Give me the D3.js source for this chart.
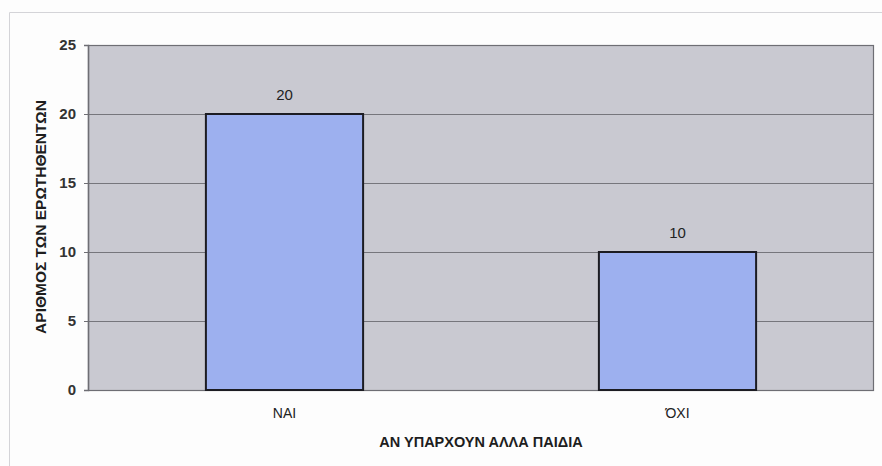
<!DOCTYPE html>
<html>
<head>
<meta charset="utf-8">
<script src="https://cdn.jsdelivr.net/npm/d3@7"></script>
<style>
  html, body { margin: 0; padding: 0; background: #fdfdfd; }
  svg { display: block; font-family: "Liberation Sans", Arial, sans-serif; }
</style>
</head>
<body>
<svg id="chart" width="882" height="466"></svg>
<script>
// Answers to "are there other children?"
const categories = ["ΝΑΙ", "ΌΧΙ"];
const counts = [20, 10];
const yTicks = [0, 5, 10, 15, 20, 25];
const xTitle = "ΑΝ ΥΠΑΡΧΟΥΝ ΑΛΛΑ ΠΑΙΔΙΑ";
const yTitle = "ΑΡΙΘΜΟΣ ΤΩΝ ΕΡΩΤΗΘΕΝΤΩΝ";

const svg = d3.select("#chart");
const plot = { left: 88, right: 874, top: 45, bottom: 390 };

// outer chart frame
svg.append("path")
  .attr("d", "M9.5,466 V12.5 H882")
  .attr("fill", "none")
  .attr("stroke", "#d4d4d8")
  .attr("stroke-width", 1);

const x = d3.scaleBand()
  .domain(categories)
  .range([plot.left, plot.right])
  .paddingInner(0.6)
  .paddingOuter(0.3);

const y = d3.scaleLinear()
  .domain([0, 25])
  .range([plot.bottom, plot.top]);

// plot area background
svg.append("rect")
  .attr("x", plot.left)
  .attr("y", plot.top)
  .attr("width", plot.right - plot.left)
  .attr("height", plot.bottom - plot.top)
  .attr("fill", "#c9c9d1");

// horizontal gridlines
svg.append("g")
  .selectAll("line")
  .data(yTicks.filter(t => t > 0))
  .join("line")
  .attr("x1", plot.left)
  .attr("x2", plot.right)
  .attr("y1", d => Math.round(y(d)) + 0.5)
  .attr("y2", d => Math.round(y(d)) + 0.5)
  .attr("stroke", "#76767c")
  .attr("stroke-width", 1);

// plot border
svg.append("rect")
  .attr("x", plot.left + 0.5)
  .attr("y", plot.top + 0.5)
  .attr("width", plot.right - plot.left - 1)
  .attr("height", plot.bottom - plot.top)
  .attr("fill", "none")
  .attr("stroke", "#6e6e74")
  .attr("stroke-width", 1.2);

// bars
svg.append("g")
  .selectAll("rect")
  .data(categories)
  .join("rect")
  .attr("x", d => x(d))
  .attr("y", (d, i) => y(counts[i]))
  .attr("width", x.bandwidth())
  .attr("height", (d, i) => y(0) - y(counts[i]))
  .attr("fill", "#9db0ef")
  .attr("stroke", "#1c1c22")
  .attr("stroke-width", 2);

// value labels
svg.append("g")
  .selectAll("text")
  .data(categories)
  .join("text")
  .attr("x", d => x(d) + x.bandwidth() / 2)
  .attr("y", (d, i) => y(counts[i]) - 14)
  .attr("text-anchor", "middle")
  .attr("font-size", 15)
  .attr("fill", "#222")
  .text((d, i) => counts[i]);

// y axis
const yAxis = svg.append("g")
  .attr("transform", `translate(${plot.left},0)`)
  .call(d3.axisLeft(y).tickValues(yTicks).tickSize(4).tickPadding(8).tickFormat(d3.format("d")));
yAxis.select(".domain").attr("stroke", "#6e6e74").attr("stroke-width", 1.5);
yAxis.selectAll(".tick line").attr("stroke", "#6e6e74");
yAxis.selectAll(".tick text")
  .attr("font-family", "'Liberation Sans', Arial, sans-serif")
  .attr("font-size", 15)
  .attr("font-weight", "bold")
  .attr("fill", "#333");

// x axis labels
const xAxis = svg.append("g")
  .attr("transform", `translate(0,${plot.bottom})`)
  .call(d3.axisBottom(x).tickSize(0).tickPadding(0));
xAxis.select(".domain").remove();
xAxis.selectAll(".tick text")
  .attr("y", 28)
  .attr("dy", null)
  .attr("font-family", "'Liberation Sans', Arial, sans-serif")
  .attr("font-size", 14)
  .attr("fill", "#222");

// axis titles
svg.append("text")
  .attr("x", (plot.left + plot.right) / 2)
  .attr("y", 447)
  .attr("text-anchor", "middle")
  .attr("font-size", 14.5)
  .attr("font-weight", "bold")
  .attr("fill", "#1e1e1e")
  .text(xTitle);

svg.append("text")
  .attr("transform", `translate(46,217) rotate(-90)`)
  .attr("text-anchor", "middle")
  .attr("font-size", 15.5)
  .attr("font-weight", "bold")
  .attr("fill", "#1e1e1e")
  .text(yTitle);
</script>
</body>
</html>
